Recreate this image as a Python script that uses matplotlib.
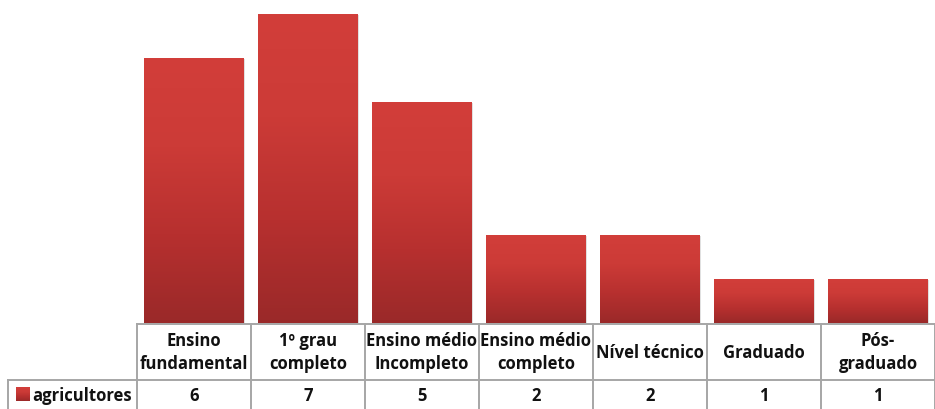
import numpy as np
import matplotlib
matplotlib.use("Agg")
import matplotlib.pyplot as plt
from matplotlib.colors import LinearSegmentedColormap
from matplotlib.patches import Rectangle

categories = ["Ensino\nfundamental", "1º grau\ncompleto", "Ensino médio\nIncompleto",
              "Ensino médio\ncompleto", "Nível técnico", "Graduado", "Pós-\ngraduado"]
values = [6, 7, 5, 2, 2, 1, 1]
series_name = "agricultores"

plt.rcParams['font.family'] = ['Open Sans', 'DejaVu Sans']

W, H = 935, 409
fig = plt.figure(figsize=(W / 100, H / 100), dpi=100)

ax_left, ax_right = 137, 935
ax_top, ax_bottom = 14, 323
ax = fig.add_axes([ax_left / W, (H - ax_bottom) / H, (ax_right - ax_left) / W, (ax_bottom - ax_top) / H])
n = len(categories)
x = np.arange(n)
ax.set_xlim(-0.5, n - 0.5)
ax.set_ylim(0, max(values))
ax.axis('off')

cmap = LinearSegmentedColormap.from_list("barg", ["#9a2929", "#b7302f", "#cc3b37", "#d23e3a"])
grad = np.linspace(0, 1, 256).reshape(-1, 1)
bw = 0.87
# shadow
ax.bar(x + 0.012, values, width=bw, bottom=-0.02, color="#000000", alpha=0.12, zorder=1)
bars = ax.bar(x, values, width=bw, color="#c0362f", zorder=2)
for b in bars:
    x0, y0 = b.get_x(), b.get_y()
    w, h = b.get_width(), b.get_height()
    im = ax.imshow(grad, cmap=cmap, aspect='auto', origin='lower',
                   extent=[x0, x0 + w, y0, y0 + h], zorder=3)
    im.set_clip_path(b)
ax.set_xlim(-0.5, n - 0.5)
ax.set_ylim(0, max(values))

# Data table
unit = (ax_right - ax_left) / n
tab = fig.add_axes([0, 0, 1, (H - ax_bottom) / H])
tab.set_xlim(-0.5 - ax_left / unit, n - 0.5)
tab.set_ylim(H, ax_bottom)
tab.axis('off')
lc = "#a6a6a6"
lw = 1.4
row_mid = 380
row_left = -0.5 - (ax_left - 8) / unit
# horizontal lines
tab.plot([-0.5, n - 0.5], [ax_bottom + 0.5, ax_bottom + 0.5], color=lc, lw=lw, clip_on=False)
tab.plot([row_left, n - 0.5], [row_mid, row_mid], color=lc, lw=lw)
# vertical lines
for i in range(n + 1):
    tab.plot([i - 0.5, i - 0.5], [ax_bottom + 0.5, H], color=lc, lw=lw)
tab.plot([row_left, row_left], [row_mid, H], color=lc, lw=lw)

fs = 12.0
for i, (c, v) in enumerate(zip(categories, values)):
    tab.text(i, (ax_bottom + row_mid) / 2 + 1, c, ha='center', va='center',
             fontsize=fs, fontweight='bold', color="#111111", linespacing=1.3)
    tab.text(i, (row_mid + H) / 2 + 1, str(v), ha='center', va='center',
             fontsize=fs, fontweight='bold', color="#111111")

# legend key
kx0 = row_left + 8 / unit
kw = 14 / unit
key = Rectangle((kx0, 387), kw, 14, facecolor="#c0362f", edgecolor='none')
tab.add_patch(key)
kim = tab.imshow(grad[::-1], cmap=cmap, aspect='auto', extent=[kx0, kx0 + kw, 401, 387], zorder=3)
kim.set_clip_path(key)
tab.set_xlim(-0.5 - ax_left / unit, n - 0.5)
tab.set_ylim(H, ax_bottom)
tab.text(kx0 + kw + 2 / unit, (row_mid + H) / 2 + 1, series_name, ha='left', va='center',
         fontsize=fs, fontweight='bold', color="#111111")

fig.savefig("out.png", dpi=100)
